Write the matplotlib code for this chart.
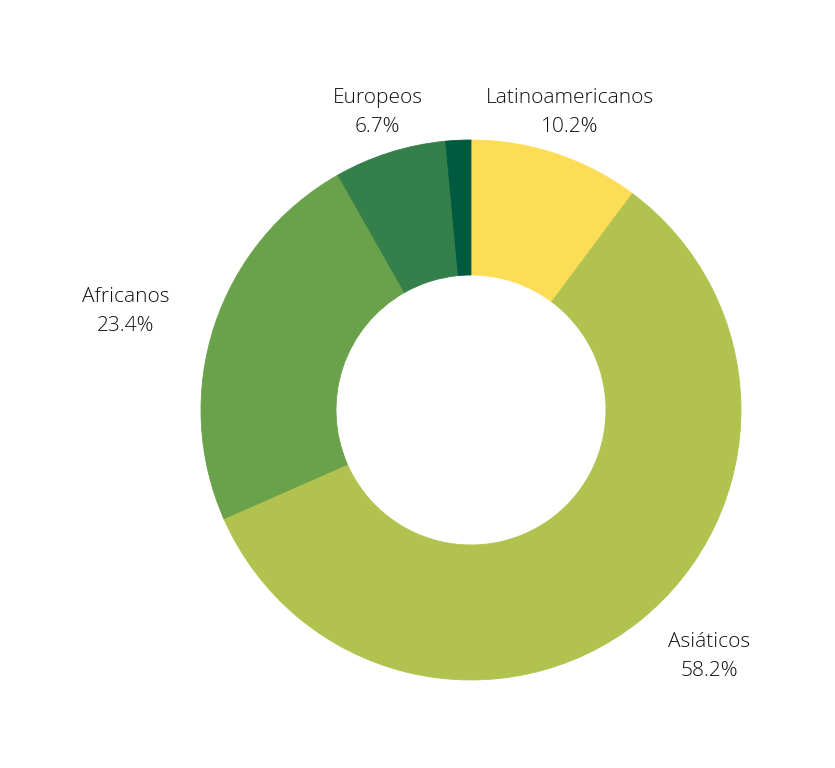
import numpy as np
import matplotlib.pyplot as plt

# shares of each group, clockwise from the top
groups = ['Latinoamericanos', 'Asiáticos', 'Africanos', 'Europeos', 'Otros']
shares = [10.2, 58.2, 23.4, 6.7, 1.5]
show_label = [True, True, True, True, False]
colors = ['#fedd56', '#b1c24e', '#6aa14b', '#357f4b', '#005a3f']

plt.rcParams['font.family'] = ['Open Sans', 'DejaVu Sans']

fig = plt.figure(figsize=(8.35, 7.68), dpi=100)
ax = fig.add_axes([0.2407, 0.1146, 0.6467, 0.7031])

wedges, _ = ax.pie(shares, colors=colors, startangle=90, counterclock=False,
                   radius=1.0, wedgeprops=dict(width=0.5, linewidth=0.6))
for w, c in zip(wedges, colors):
    w.set_edgecolor(c)

# distance of each label from the centre (in radius units)
label_r = [1.16, 1.27, 1.33, 1.155, 1.2]
for w, name, val, show, r in zip(wedges, groups, shares, show_label, label_r):
    if not show:
        continue
    ang = np.deg2rad((w.theta1 + w.theta2) / 2)
    if name == 'Africanos':
        ang = np.deg2rad(164)
    if name == 'Asiáticos':
        ang = np.deg2rad(-46)
    ax.text(r * np.cos(ang), r * np.sin(ang), f'{name}\n{val}%',
            ha='center', va='center', fontsize=15, fontweight='light',
            color='#111111', linespacing=1.6)

ax.set_xlim(-1, 1)
ax.set_ylim(-1, 1)
ax.axis('off')
fig.savefig('out.png', dpi=100)
